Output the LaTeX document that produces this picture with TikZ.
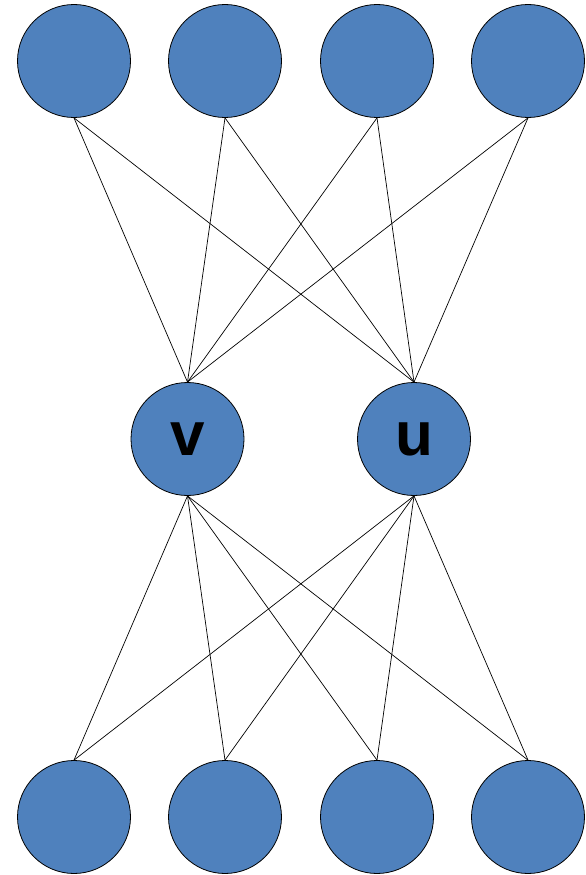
\documentclass[tikz,border=0pt]{standalone}
\usepackage{fontspec}
\setmainfont{Liberation Sans}
\definecolor{nodeblue}{HTML}{4F81BD}
\begin{document}
\begin{tikzpicture}[x=1pt,y=-1pt,
  vert/.style={circle,draw=black,line width=0.8pt,fill=nodeblue,minimum size=113pt,inner sep=0pt,font=\fontsize{62}{62}\selectfont\bfseries},
  edge/.style={draw=black,line width=0.7pt}]
\useasboundingbox (0,0) rectangle (586,875);
\node[vert] (t1) at (74,61) {};
\node[vert] (t2) at (225,61) {};
\node[vert] (t3) at (377,61) {};
\node[vert] (t4) at (528,61) {};
\node[vert] (v) at (187.5,439) {\raisebox{-3pt}{v}};
\node[vert] (u) at (414,439) {\raisebox{-3pt}{u}};
\node[vert] (b1) at (74,817) {};
\node[vert] (b2) at (225,817) {};
\node[vert] (b3) at (377,817) {};
\node[vert] (b4) at (528,817) {};
\foreach \t in {t1,t2,t3,t4}{
  \draw[edge] (\t.south) -- (v.north);
  \draw[edge] (\t.south) -- (u.north);
}
\foreach \b in {b1,b2,b3,b4}{
  \draw[edge] (\b.north) -- (v.south);
  \draw[edge] (\b.north) -- (u.south);
}
\end{tikzpicture}
\end{document}
